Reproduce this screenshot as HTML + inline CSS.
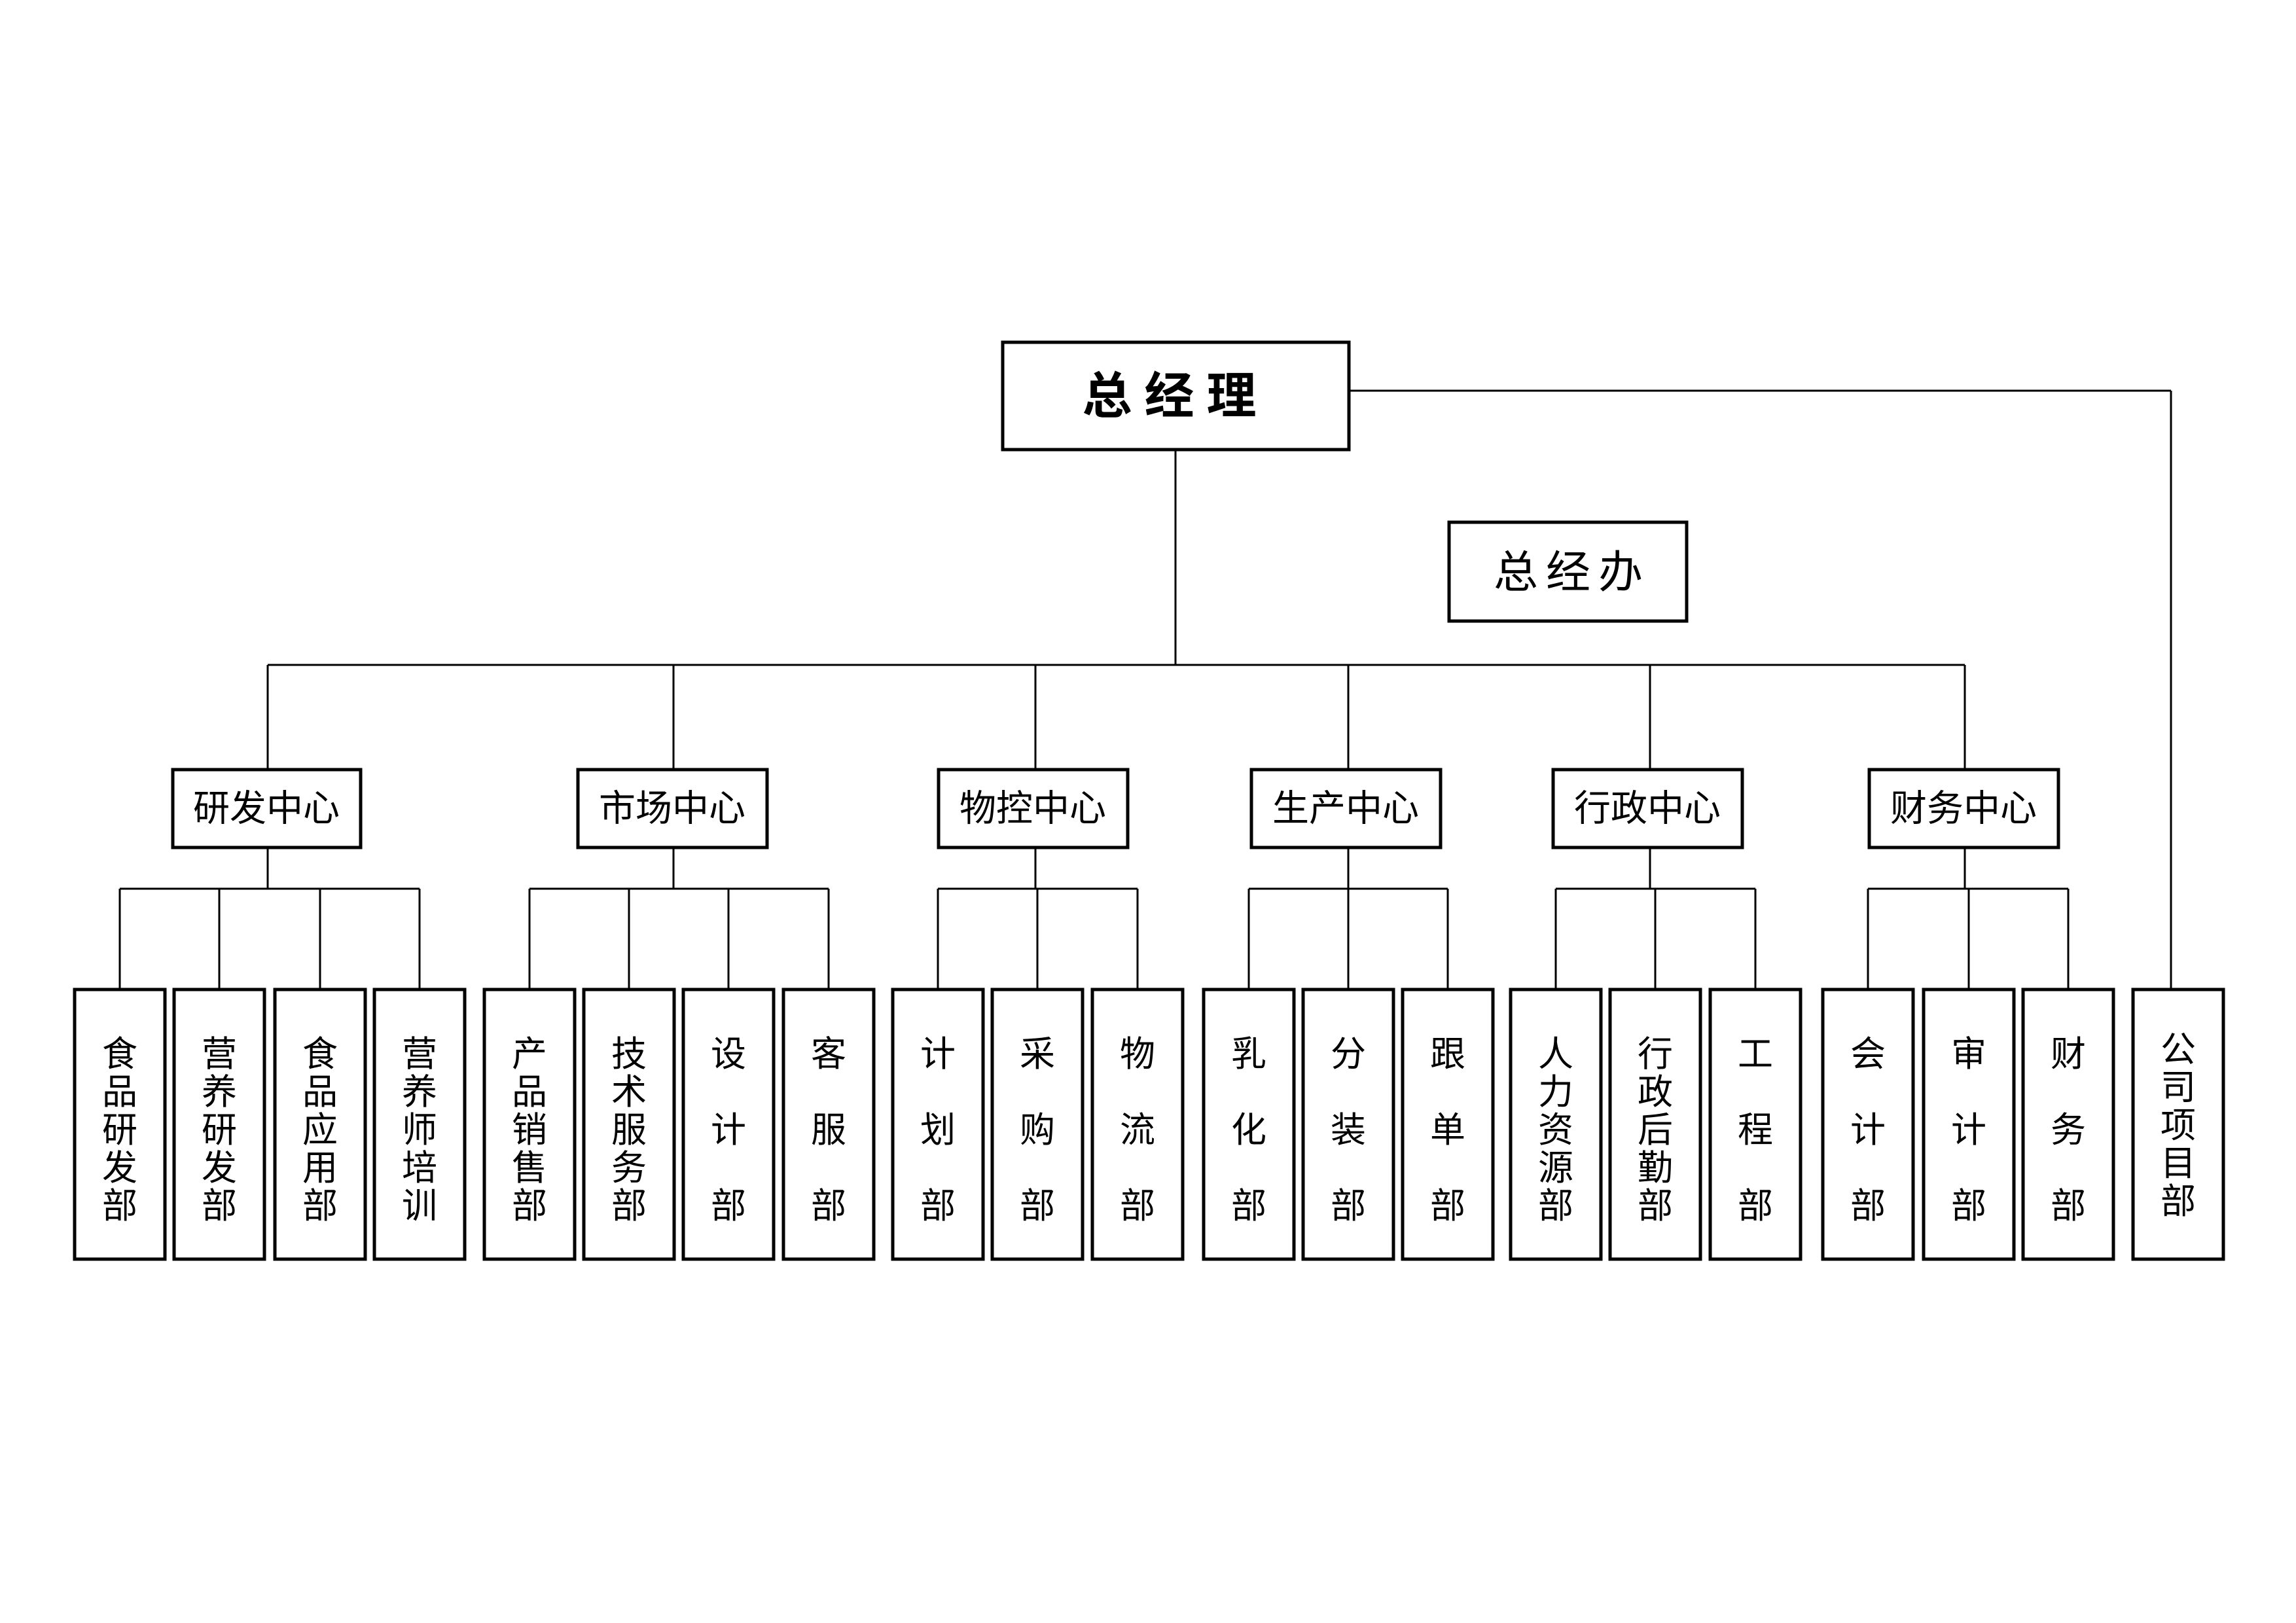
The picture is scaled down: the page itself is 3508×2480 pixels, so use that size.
<!DOCTYPE html>
<html><head><meta charset="utf-8"><style>
html,body{margin:0;padding:0;background:#fff;}
svg{display:block;}
text{font-family:"Liberation Sans","Noto Sans CJK SC",sans-serif;fill:#000;}
</style></head><body>
<svg width="3508" height="2480" viewBox="0 0 3508 2480" xmlns="http://www.w3.org/2000/svg">
<g stroke="#000" stroke-width="3" fill="none">
<!-- trunk -->
<line x1="1796" y1="689" x2="1796" y2="1016"/>
<line x1="409" y1="1016" x2="3002" y2="1016"/>
<line x1="2063" y1="597" x2="3317" y2="597"/>
<line x1="3317" y1="597" x2="3317" y2="1510"/>
<!-- drops to centers -->
<line x1="409" y1="1016" x2="409" y2="1174"/>
<line x1="1029" y1="1016" x2="1029" y2="1174"/>
<line x1="1582" y1="1016" x2="1582" y2="1174"/>
<line x1="2060" y1="1016" x2="2060" y2="1174"/>
<line x1="2521" y1="1016" x2="2521" y2="1174"/>
<line x1="3002" y1="1016" x2="3002" y2="1174"/>
<!-- center to sub-bus -->
<line x1="409" y1="1297" x2="409" y2="1358"/>
<line x1="1029" y1="1297" x2="1029" y2="1358"/>
<line x1="1582" y1="1297" x2="1582" y2="1358"/>
<line x1="2060" y1="1297" x2="2060" y2="1358"/>
<line x1="2521" y1="1297" x2="2521" y2="1358"/>
<line x1="3002" y1="1297" x2="3002" y2="1358"/>
<!-- sub-buses -->
<line x1="183" y1="1358" x2="641" y2="1358"/>
<line x1="809" y1="1358" x2="1266" y2="1358"/>
<line x1="1433" y1="1358" x2="1738" y2="1358"/>
<line x1="1908" y1="1358" x2="2212" y2="1358"/>
<line x1="2377" y1="1358" x2="2682" y2="1358"/>
<line x1="2854" y1="1358" x2="3160" y2="1358"/>
<!-- drops to leaves -->
<line x1="183" y1="1358" x2="183" y2="1510"/>
<line x1="335" y1="1358" x2="335" y2="1510"/>
<line x1="489" y1="1358" x2="489" y2="1510"/>
<line x1="641" y1="1358" x2="641" y2="1510"/>
<line x1="809" y1="1358" x2="809" y2="1510"/>
<line x1="961" y1="1358" x2="961" y2="1510"/>
<line x1="1113" y1="1358" x2="1113" y2="1510"/>
<line x1="1266" y1="1358" x2="1266" y2="1510"/>
<line x1="1433" y1="1358" x2="1433" y2="1510"/>
<line x1="1585" y1="1358" x2="1585" y2="1510"/>
<line x1="1738" y1="1358" x2="1738" y2="1510"/>
<line x1="1908" y1="1358" x2="1908" y2="1510"/>
<line x1="2060" y1="1358" x2="2060" y2="1510"/>
<line x1="2212" y1="1358" x2="2212" y2="1510"/>
<line x1="2377" y1="1358" x2="2377" y2="1510"/>
<line x1="2529" y1="1358" x2="2529" y2="1510"/>
<line x1="2682" y1="1358" x2="2682" y2="1510"/>
<line x1="2854" y1="1358" x2="2854" y2="1510"/>
<line x1="3008" y1="1358" x2="3008" y2="1510"/>
<line x1="3160" y1="1358" x2="3160" y2="1510"/>
</g>
<g stroke="#000" stroke-width="5" fill="#fff">
<rect x="1532" y="523" width="529" height="164"/>
<rect x="2214" y="798" width="363" height="151"/>
<rect x="264" y="1176" width="287" height="119"/>
<rect x="883" y="1176" width="289" height="119"/>
<rect x="1434" y="1176" width="289" height="119"/>
<rect x="1912" y="1176" width="289" height="119"/>
<rect x="2373" y="1176" width="289" height="119"/>
<rect x="2856" y="1176" width="289" height="119"/>
<rect x="114" y="1512" width="138" height="412"/>
<rect x="266" y="1512" width="138" height="412"/>
<rect x="420" y="1512" width="138" height="412"/>
<rect x="572" y="1512" width="138" height="412"/>
<rect x="740" y="1512" width="138" height="412"/>
<rect x="892" y="1512" width="138" height="412"/>
<rect x="1044" y="1512" width="138" height="412"/>
<rect x="1197" y="1512" width="138" height="412"/>
<rect x="1364" y="1512" width="138" height="412"/>
<rect x="1516" y="1512" width="138" height="412"/>
<rect x="1669" y="1512" width="138" height="412"/>
<rect x="1839" y="1512" width="138" height="412"/>
<rect x="1991" y="1512" width="138" height="412"/>
<rect x="2143" y="1512" width="138" height="412"/>
<rect x="2308" y="1512" width="138" height="412"/>
<rect x="2460" y="1512" width="138" height="412"/>
<rect x="2613" y="1512" width="138" height="412"/>
<rect x="2785" y="1512" width="138" height="412"/>
<rect x="2939" y="1512" width="138" height="412"/>
<rect x="3091" y="1512" width="138" height="412"/>
<rect x="3259" y="1512" width="138" height="412"/>
</g>
<g text-anchor="middle" dominant-baseline="central">
<text x="1796" y="606" font-size="76" font-weight="bold" letter-spacing="19">总经理</text>
<text x="2402" y="875" font-size="68" letter-spacing="12">总经办</text>
<g font-size="56">
<text x="407" y="1235">研发中心</text>
<text x="1027" y="1235">市场中心</text>
<text x="1578" y="1235">物控中心</text>
<text x="2056" y="1235">生产中心</text>
<text x="2517" y="1235">行政中心</text>
<text x="3000" y="1235">财务中心</text>
</g>
<g font-size="54">
<!-- 5-char columns: centers 1611 + 58*i -->
<text x="183"><tspan x="183" y="1611">食</tspan><tspan x="183" y="1669">品</tspan><tspan x="183" y="1727">研</tspan><tspan x="183" y="1785">发</tspan><tspan x="183" y="1843">部</tspan></text>
<text x="335"><tspan x="335" y="1611">营</tspan><tspan x="335" y="1669">养</tspan><tspan x="335" y="1727">研</tspan><tspan x="335" y="1785">发</tspan><tspan x="335" y="1843">部</tspan></text>
<text x="489"><tspan x="489" y="1611">食</tspan><tspan x="489" y="1669">品</tspan><tspan x="489" y="1727">应</tspan><tspan x="489" y="1785">用</tspan><tspan x="489" y="1843">部</tspan></text>
<text x="641"><tspan x="641" y="1611">营</tspan><tspan x="641" y="1669">养</tspan><tspan x="641" y="1727">师</tspan><tspan x="641" y="1785">培</tspan><tspan x="641" y="1843">训</tspan></text>
<text x="809"><tspan x="809" y="1611">产</tspan><tspan x="809" y="1669">品</tspan><tspan x="809" y="1727">销</tspan><tspan x="809" y="1785">售</tspan><tspan x="809" y="1843">部</tspan></text>
<text x="961"><tspan x="961" y="1611">技</tspan><tspan x="961" y="1669">术</tspan><tspan x="961" y="1727">服</tspan><tspan x="961" y="1785">务</tspan><tspan x="961" y="1843">部</tspan></text>
<text x="2377"><tspan x="2377" y="1611">人</tspan><tspan x="2377" y="1669">力</tspan><tspan x="2377" y="1727">资</tspan><tspan x="2377" y="1785">源</tspan><tspan x="2377" y="1843">部</tspan></text>
<text x="2529"><tspan x="2529" y="1611">行</tspan><tspan x="2529" y="1669">政</tspan><tspan x="2529" y="1727">后</tspan><tspan x="2529" y="1785">勤</tspan><tspan x="2529" y="1843">部</tspan></text>
<text x="3328"><tspan x="3328" y="1604">公</tspan><tspan x="3328" y="1662">司</tspan><tspan x="3328" y="1720">项</tspan><tspan x="3328" y="1778">目</tspan><tspan x="3328" y="1836">部</tspan></text>
<!-- 3-char columns: 1611, 1727, 1843 -->
<text x="1113"><tspan x="1113" y="1611">设</tspan><tspan x="1113" y="1727">计</tspan><tspan x="1113" y="1843">部</tspan></text>
<text x="1266"><tspan x="1266" y="1611">客</tspan><tspan x="1266" y="1727">服</tspan><tspan x="1266" y="1843">部</tspan></text>
<text x="1433"><tspan x="1433" y="1611">计</tspan><tspan x="1433" y="1727">划</tspan><tspan x="1433" y="1843">部</tspan></text>
<text x="1585"><tspan x="1585" y="1611">采</tspan><tspan x="1585" y="1727">购</tspan><tspan x="1585" y="1843">部</tspan></text>
<text x="1738"><tspan x="1738" y="1611">物</tspan><tspan x="1738" y="1727">流</tspan><tspan x="1738" y="1843">部</tspan></text>
<text x="1908"><tspan x="1908" y="1611">乳</tspan><tspan x="1908" y="1727">化</tspan><tspan x="1908" y="1843">部</tspan></text>
<text x="2060"><tspan x="2060" y="1611">分</tspan><tspan x="2060" y="1727">装</tspan><tspan x="2060" y="1843">部</tspan></text>
<text x="2212"><tspan x="2212" y="1611">跟</tspan><tspan x="2212" y="1727">单</tspan><tspan x="2212" y="1843">部</tspan></text>
<text x="2682"><tspan x="2682" y="1611">工</tspan><tspan x="2682" y="1727">程</tspan><tspan x="2682" y="1843">部</tspan></text>
<text x="2854"><tspan x="2854" y="1611">会</tspan><tspan x="2854" y="1727">计</tspan><tspan x="2854" y="1843">部</tspan></text>
<text x="3008"><tspan x="3008" y="1611">审</tspan><tspan x="3008" y="1727">计</tspan><tspan x="3008" y="1843">部</tspan></text>
<text x="3160"><tspan x="3160" y="1611">财</tspan><tspan x="3160" y="1727">务</tspan><tspan x="3160" y="1843">部</tspan></text>
</g>
</g>
</svg>
</body></html>
